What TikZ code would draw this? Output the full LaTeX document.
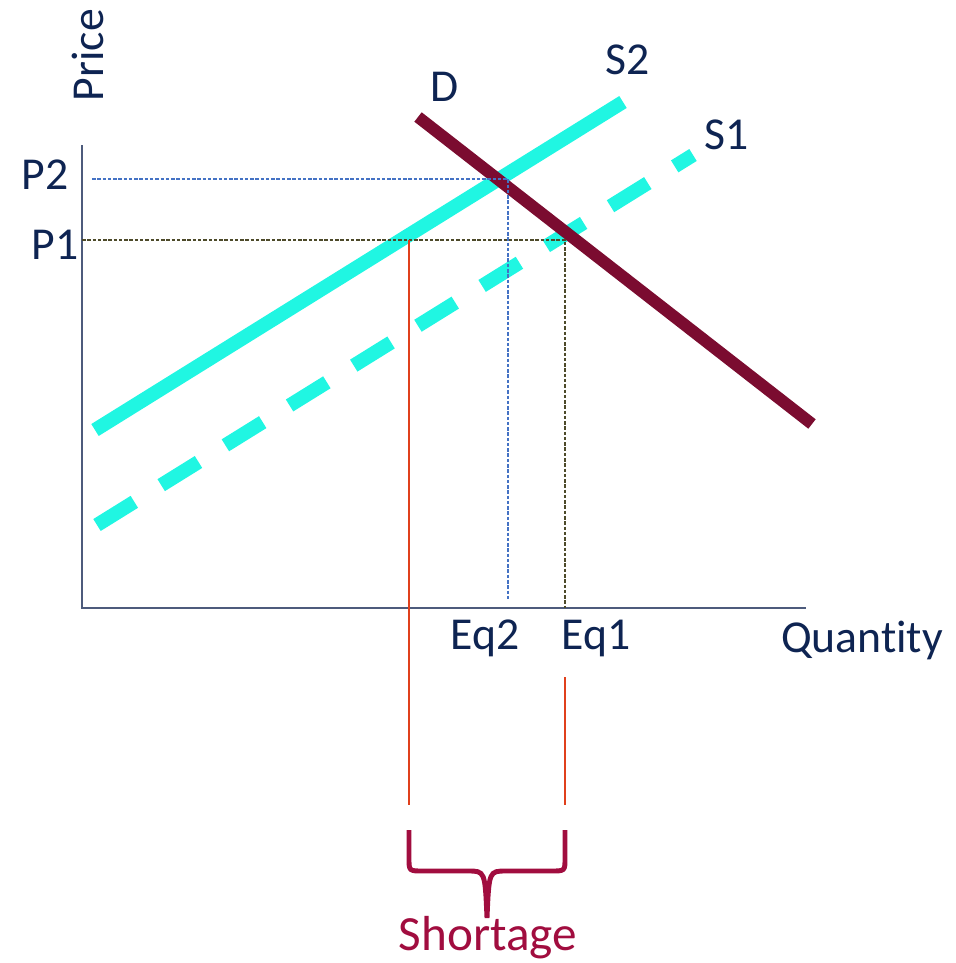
\documentclass[tikz,border=0pt]{standalone}
\usepackage{fontspec}
\setmainfont[Ligatures=NoCommon]{Carlito}
\usepackage{xcolor, tikz}
\usetikzlibrary{calc}
\definecolor{navy}{HTML}{0E2452}
\definecolor{axisgray}{HTML}{4D5B7C}
\definecolor{aqua}{HTML}{20F6E2}
\definecolor{wine}{HTML}{7B0C30}
\definecolor{berry}{HTML}{A10D3F}
\definecolor{guideblue}{HTML}{4472C4}
\definecolor{guideolive}{HTML}{4D4A2A}
\definecolor{gapred}{HTML}{E0401C}
\tikzstyle{axis} = [line width=1.2pt, draw=axisgray]
\tikzstyle{supply} = [line width=8pt, draw=aqua]
\tikzstyle{demand} = [line width=6.8pt, draw=wine]
\tikzstyle{gap} = [line width=0.7pt, draw=gapred]
\tikzset{
  guide/.style={
    line width=0.6pt,
    dash pattern=on 2pt off 1pt, % fine dotted guides to the axes
    draw=#1
  },
  lbl/.style={
    text=navy,
    font=\fontsize{26}{30}\selectfont,
    inner sep=0pt
  }
}

\begin{document}
\begin{tikzpicture}[x=0.02cm, y=-0.02cm]
    \useasboundingbox (0,0) rectangle (956,963);
    % axes
    \coordinate (o) at (82,608);
    \coordinate (ytop) at (82,145);
    \coordinate (xend) at (806,608);
    \draw[axis] (ytop) -- (o) -- (xend);
    \node (price)[lbl, rotate=90] at (88,55) {Price};
    \node (qty)[lbl] at (862,640) {Quantity};
    % curves
    \coordinate (s2a) at (95,430);
    \coordinate (s2b) at (623,102);
    \coordinate (s1a) at (97,525);
    \coordinate (s1b) at (693,155);
    \coordinate (da) at (418,117);
    \coordinate (db) at (812,424);
    \draw[supply] (s2a) -- (s2b);
    \draw[supply, dash pattern=on 25pt off 18pt] (s1a) -- (s1b);
    \draw[demand] (da) -- (db);
    \node (dl)[lbl] at (445,87) {D};
    \node (s2l)[lbl] at (628,60) {S2};
    \node (s1l)[lbl] at (727,135) {S1};
    % price levels
    \node (p2)[lbl] at (45,175) {P2};
    \node (p1)[lbl] at (55,245) {P1};
    \coordinate (p2a) at (92,179);
    \coordinate (e2) at (508,179);
    \coordinate (e2b) at (508,600);
    \coordinate (p1a) at (82,240);
    \coordinate (e1) at (565,240);
    \coordinate (e1b) at (565,608);
    \draw[guide=guideblue] (p2a) -- (e2) -- (e2b);
    \draw[guide=guideolive] (p1a) -- (e1) -- (e1b);
    \node (eq2)[lbl] at (485,638) {Eq2};
    \node (eq1)[lbl] at (596,638) {Eq1};
    % shortage
    \coordinate (qs) at (409,240);
    \coordinate (qsb) at (409,805);
    \coordinate (qd) at (565,677);
    \coordinate (qdb) at (565,805);
    \draw[gap] (qs) -- (qsb);
    \draw[gap] (qd) -- (qdb);
    \coordinate (bl) at (409,830);
    \coordinate (br) at (565,830);
    \coordinate (tip) at (487,918);
    \draw[berry, line width=2.8pt]
      (bl) -- (409,858) .. controls (409,871) .. (423,871) -- (468,871)
      .. controls (485,871) .. (tip)
      .. controls (489,871) .. (506,871) -- (551,871)
      .. controls (565,871) .. (565,858) -- (br);
    \node (short)[lbl, text=berry, font=\fontsize{28}{32}\selectfont] at (488,938) {Shortage};
\end{tikzpicture}
\end{document}
